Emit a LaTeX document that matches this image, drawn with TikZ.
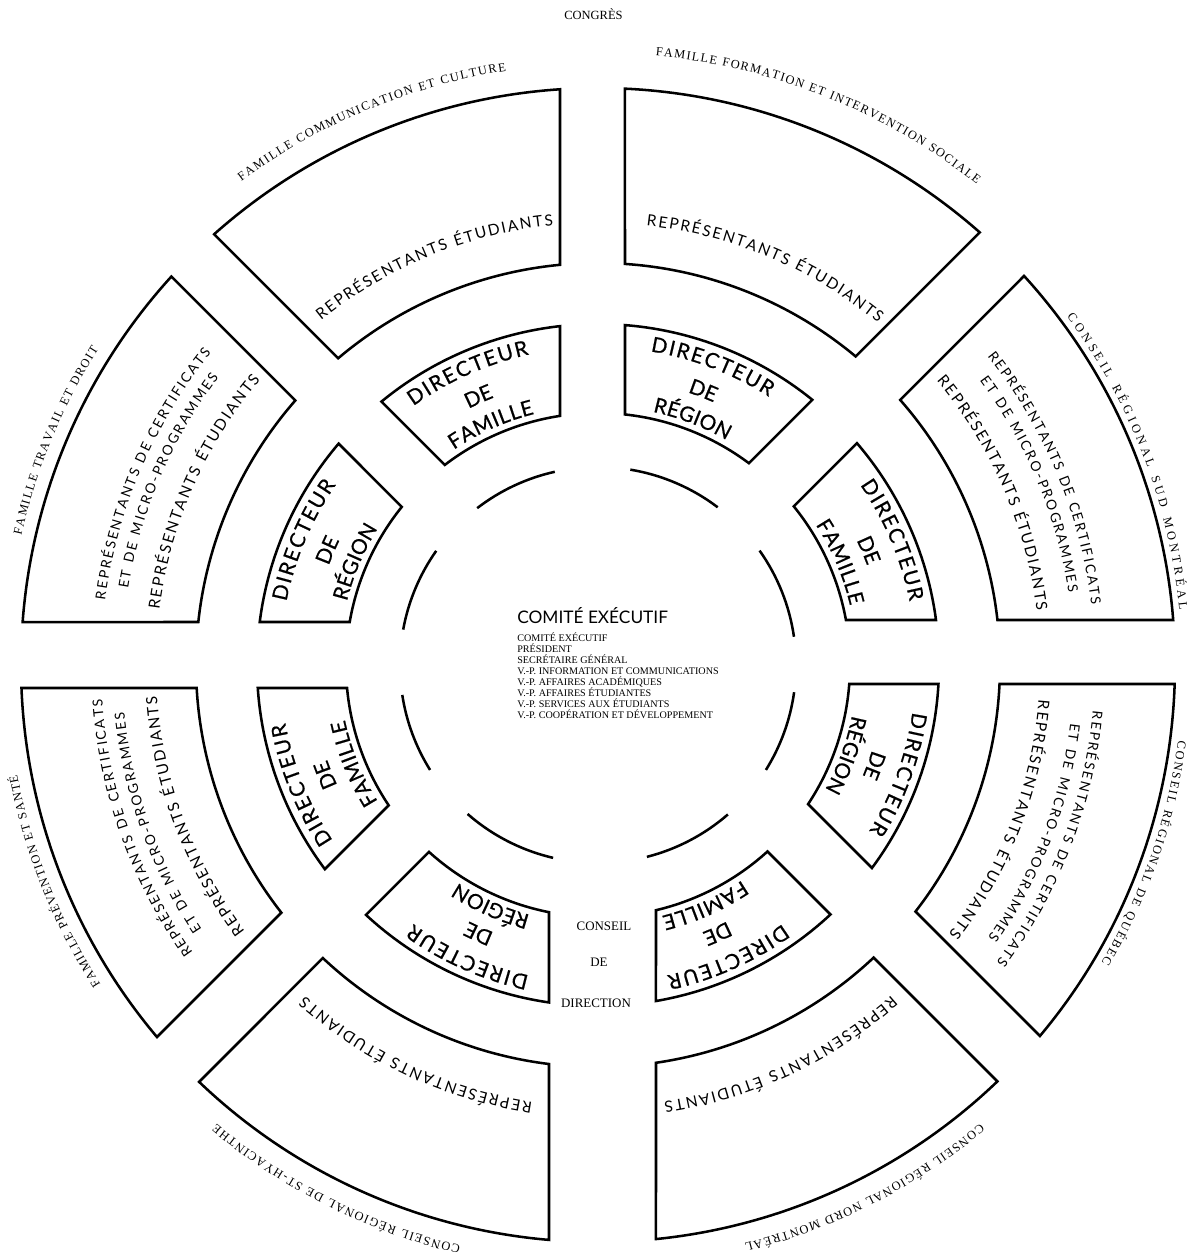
\documentclass[tikz,border=0pt]{standalone}
\usepackage{fontspec}
\setmainfont{Liberation Serif}
\newfontfamily\optfam{Lato}
\newfontfamily\optheavy{Lato}[FakeBold=0.6]
\usetikzlibrary{decorations.text}
\newcommand\lblfont{\fontsize{8.8}{9.5}\selectfont}
\newcommand\etufont{\optfam\fontsize{11}{12}\selectfont}
\newcommand\certfont{\optfam\fontsize{9.8}{11}\selectfont}
\newcommand\dirfont{\optheavy\fontsize{14.8}{16}\selectfont}

\begin{document}
\begin{tikzpicture}[x=0.025cm,y=0.025cm,
  box/.style={line width=1.8pt,line join=miter},
  ring/.style={line width=1.8pt}]
  \fill[white] (-598,-593) rectangle (593,665);
  \useasboundingbox (-598,-593) rectangle (593,665);
  \foreach \m/\p/\q in {112.5/38/33.2,67.5/36/27,22.5/45/26.2,-22.5/50.2/19,
                        -67.5/58/12,-112.5/12.7/49,-157.5/23/48.8,157.5/26.9/43} {
    \foreach \ri/\ro in {252/341,402/577} {
      \pgfmathsetmacro\ai{\m-22.5+asin(\p/\ri)}
      \pgfmathsetmacro\bi{\m+22.5-asin(\q/\ri)}
      \pgfmathsetmacro\ao{\m-22.5+asin(\p/\ro)}
      \pgfmathsetmacro\bo{\m+22.5-asin(\q/\ro)}
      \draw[box] (\ai:\ri) -- (\ao:\ro) arc[start angle=\ao,end angle=\bo,radius=\ro]
        -- (\bi:\ri) arc[start angle=\bi,end angle=\ai,radius=\ri] -- cycle;
    }
  }
  \foreach \a/\b in {102.6/127.6,52.8/80.6,8.2/35.3,-32/-7.9,
                     -75.7/-49,-131.2/-103.1,-171.3/-148,144.8/169.7}
    \draw[ring] (\a:198) arc[start angle=\a,end angle=\b,radius=198];
  % labels round the ring
  \foreach \c/\h/\r/\t in {112.6/13.8/601/FAMILLE COMMUNICATION ET CULTURE,
      68.2/16.4/612/FAMILLE FORMATION ET INTERVENTION SOCIALE,
      21/15.6/584/CONSEIL RÉGIONAL SUD MONTRÉAL,
      -19/11.6/585/CONSEIL RÉGIONAL DE QUÉBEC,
      -63/12.8/597/CONSEIL RÉGIONAL NORD MONTRÉAL,
      -116.5/13.2/597/CONSEIL RÉGIONAL DE ST-HYACINTHE,
      -158.3/11/591/FAMILLE PRÉVENTION ET SANTÉ,
      157.5/9.8/591/FAMILLE TRAVAIL ET DROIT}
    \path[decorate,decoration={text along path,text align=fit to path,
        text/.expanded={|\noexpand\lblfont|\t}}]
      ({\c+\h}:\r) arc[start angle={\c+\h},end angle={\c-\h},radius=\r];
  \foreach \c in {112.3,67.2,23.5,-21,-64.9,-115,-159.5,156.3}
    \path[decorate,decoration={text along path,text align=fit to path,
        text/.expanded={|\noexpand\etufont|REPRÉSENTANTS ÉTUDIANTS}}]
      ({\c+16.5}:442) arc[start angle={\c+16.5},end angle={\c-16.5},radius=442];
  \foreach \c in {22.7,-21,-160.3,156.8} {
    \path[decorate,decoration={text along path,text align=fit to path,
        text/.expanded={|\noexpand\certfont|REPRÉSENTANTS DE CERTIFICATS}}]
      ({\c+15.7}:497) arc[start angle={\c+15.7},end angle={\c-15.7},radius=497];
    \path[decorate,decoration={text along path,text align=fit to path,
        text/.expanded={|\noexpand\certfont|ET DE MICRO-PROGRAMMES}}]
      ({\c+14}:476) arc[start angle={\c+14},end angle={\c-14},radius=476];
  }
  \foreach \c/\w/\h in {114/FAMILLE/9.8,69/RÉGION/8.8,23/FAMILLE/9.8,-20/RÉGION/8.8,
                        -66/FAMILLE/9.8,-114/RÉGION/8.8,-158/FAMILLE/9.8,157/RÉGION/8.8} {
    \path[decorate,decoration={text along path,text align=fit to path,
        text/.expanded={|\noexpand\dirfont|DIRECTEUR}}]
      ({\c+11.5}:318) arc[start angle={\c+11.5},end angle={\c-11.5},radius=318];
    \path[decorate,decoration={text along path,text align=center,
        text/.expanded={|\noexpand\dirfont|DE}}]
      ({\c+12}:287) arc[start angle={\c+12},end angle={\c-12},radius=287];
    \path[decorate,decoration={text along path,text align=fit to path,
        text/.expanded={|\noexpand\dirfont|\w}}]
      ({\c+\h}:259) arc[start angle={\c+\h},end angle={\c-\h},radius=259];
  }
  \node[font=\fontsize{8.9}{10}\selectfont,anchor=base,inner sep=0] (congres) at (-4.5,645) {CONGRÈS};
  \node[font=\optfam\fontsize{12.3}{14}\selectfont,anchor=base west,inner sep=0] (comite) at (-81,41.7) {COMITÉ EXÉCUTIF};
  \foreach \t [count=\i] in {COMITÉ EXÉCUTIF,PRÉSIDENT,SECRÉTAIRE GÉNÉRAL,
      V.-P. INFORMATION ET COMMUNICATIONS,V.-P. AFFAIRES ACADÉMIQUES,
      V.-P. AFFAIRES ÉTUDIANTES,V.-P. SERVICES AUX ÉTUDIANTS,
      V.-P. COOPÉRATION ET DÉVELOPPEMENT}
    \node[font=\fontsize{7.2}{8}\selectfont,anchor=base west,inner sep=0] (membre-\i) at (-81,{23.3-10.9*(\i-1)}) {\t};
  \node[font=\fontsize{9.2}{10}\selectfont,anchor=base,inner sep=0] (conseil) at (6,-265) {CONSEIL};
  \node[font=\fontsize{9.2}{10}\selectfont,anchor=base,inner sep=0] (de) at (1,-301) {DE};
  \node[font=\fontsize{9.2}{10}\selectfont,anchor=base,inner sep=0] (direction) at (-2,-342) {DIRECTION};
\end{tikzpicture}
\end{document}
